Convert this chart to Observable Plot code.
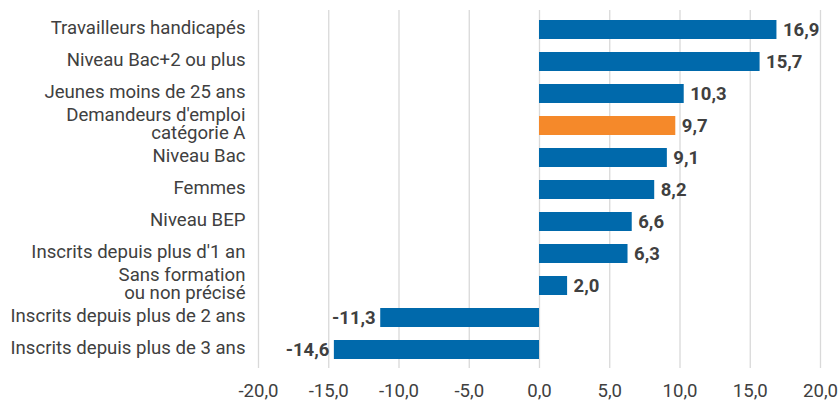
<!DOCTYPE html>
<html>
<head>
<meta charset="utf-8">
<script src="https://cdn.jsdelivr.net/npm/d3@7"></script>
<script src="https://cdn.jsdelivr.net/npm/@observablehq/plot@0.6"></script>
<style>
  html, body { margin: 0; padding: 0; background: #fff; }
  #chart svg { display: block; }
</style>
</head>
<body>
<div id="chart"></div>
<script>
const categories = [
  "Travailleurs handicapés",
  "Niveau Bac+2 ou plus",
  "Jeunes moins de 25 ans",
  "Demandeurs d'emploi\ncatégorie A",
  "Niveau Bac",
  "Femmes",
  "Niveau BEP",
  "Inscrits depuis plus d'1 an",
  "Sans formation\nou non précisé",
  "Inscrits depuis plus de 2 ans",
  "Inscrits depuis plus de 3 ans"
];
const values = [16.9, 15.7, 10.3, 9.7, 9.1, 8.2, 6.6, 6.3, 2.0, -11.3, -14.6];
const highlighted = "Demandeurs d'emploi\ncatégorie A";
const xTicks = [-20, -15, -10, -5, 0, 5, 10, 15, 20];

const data = categories.map((c, i) => ({category: c, value: values[i]}));
const fmt = d => d.toFixed(1).replace(".", ",");

const chart = Plot.plot({
  width: 838,
  height: 401,
  marginLeft: 258,
  marginRight: 18,
  marginTop: 10,
  marginBottom: 33,
  style: {fontFamily: "Roboto, sans-serif", fontSize: "18.6px", color: "#404040", background: "#fff"},
  x: {domain: [-20, 20], ticks: xTicks, tickFormat: fmt},
  y: {domain: categories, paddingInner: 0.42, paddingOuter: 0.21},
  marks: [
    Plot.gridX(xTicks, {stroke: "#d9d9d9", strokeOpacity: 1, strokeWidth: 1.3}),
    Plot.barX(data, {
      x: "value", y: "category",
      fill: d => d.category === highlighted ? "#F5892A" : "#0069AB"
    }),
    Plot.text(data.filter(d => d.value >= 0), {
      x: "value", y: "category",
      text: d => fmt(d.value),
      textAnchor: "start", dx: 6,
      fontWeight: "bold", fontSize: 18.5, fill: "#404040"
    }),
    Plot.text(data.filter(d => d.value < 0), {
      x: "value", y: "category",
      text: d => fmt(d.value),
      textAnchor: "end", dx: -5,
      fontWeight: "bold", fontSize: 18.5, fill: "#404040"
    }),
    Plot.axisX({ticks: xTicks, tickFormat: fmt, tickSize: 0, tickPadding: 15, fontSize: 18.6, fill: "#404040", label: null}),
    Plot.axisY({tickSize: 0, tickPadding: 13, fontSize: 18.6, lineHeight: 0.97, dy: -1.5, fill: "#404040", label: null})
  ]
});

document.getElementById("chart").appendChild(chart);
</script>
</body>
</html>
